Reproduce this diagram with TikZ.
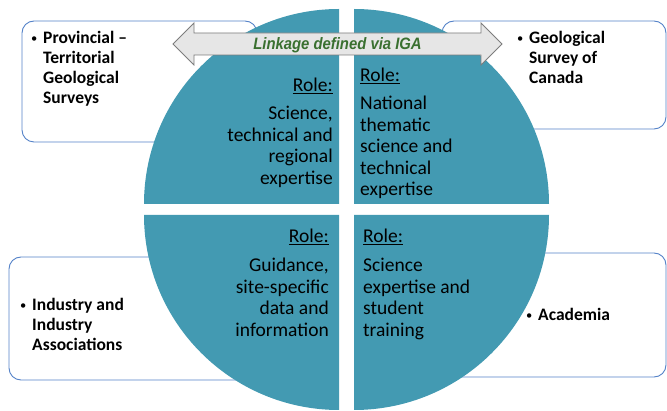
\documentclass[tikz,border=0pt]{standalone}
\usepackage{fontspec}
\setmainfont{Carlito}
\newfontfamily\arialfont{Liberation Sans}
\definecolor{quad}{RGB}{67,154,178}
\definecolor{boxline}{RGB}{84,130,200}
\definecolor{linkgreen}{RGB}{58,112,48}
\definecolor{linkfill}{RGB}{230,230,230}
\definecolor{linkline}{RGB}{125,125,125}
\tikzset{
  partner/.style={draw=boxline, line width=0.9pt, fill=white, rounded corners=12pt},
  quarter/.style={fill=quad},
  linkarrow/.style={fill=linkfill, draw=linkline, line width=0.8pt},
  partnertext/.style={anchor=base west, inner sep=0pt, font=\fontsize{17.5}{20}\selectfont\bfseries},
  roleleft/.style={anchor=base east, inner sep=0pt, font=\fontsize{19.5}{21.5}\selectfont},
  roleright/.style={anchor=base west, inner sep=0pt, font=\fontsize{19.5}{21.5}\selectfont},
}
\newcommand{\bul}{\makebox[12pt][l]{\raisebox{1.2pt}{\fontsize{12.5}{12.5}\selectfont\mdseries\textbullet}}}
\begin{document}
\begin{tikzpicture}[x=1pt,y=-1pt]
    \useasboundingbox (0,0) rectangle (667,411);
    % partner boxes
    \draw[partner] (22,21) rectangle (257,142);
    \draw[partner] (442,21) rectangle (666,129);
    \draw[partner] (9,257) rectangle (300,380);
    \draw[partner] (400,253) rectangle (666,377);
    % four quarters
    \fill[quarter] (339,204) -- (144,204) arc[start angle=180, end angle=270, radius=195] -- cycle;
    \fill[quarter] (354,204) -- (354,9) arc[start angle=270, end angle=360, radius=195] -- cycle;
    \fill[quarter] (339,215) -- (339,410) arc[start angle=90, end angle=180, radius=195] -- cycle;
    \fill[quarter] (354,215) -- (549,215) arc[start angle=0, end angle=90, radius=195] -- cycle;
    % linkage arrow
    \draw[linkarrow] (173,44) -- (194,23) -- (194,33) -- (481,33) -- (481,23) -- (502,44)
        -- (481,65) -- (481,55) -- (194,55) -- (194,65) -- cycle;
    \node (link) at (337.5,49.5) [anchor=base, inner sep=0pt, xscale=0.9,
        font=\arialfont\fontsize{16.5}{18}\selectfont\bfseries\itshape, text=linkgreen]
        {Linkage defined via IGA};
    % partners
    \node (ptgs) at (31,44) [partnertext]
        {\begin{tabular}[t]{@{}l@{}l@{}}\bul & Provincial --\\ & Territorial\\ & Geological\\ & Surveys\end{tabular}};
    \node (gsc) at (517,44) [partnertext]
        {\begin{tabular}[t]{@{}l@{}l@{}}\bul & Geological\\ & Survey of\\ & Canada\end{tabular}};
    \node (industry) at (20,311) [partnertext]
        {\begin{tabular}[t]{@{}l@{}l@{}}\bul & Industry and\\ & Industry\\ & Associations\end{tabular}};
    \node (academia) at (526,321) [partnertext]
        {\begin{tabular}[t]{@{}l@{}l@{}}\bul & Academia\end{tabular}};
    % roles
    \node (roleptgs) at (333,92) [roleleft]
        {\begin{tabular}[t]{@{}r@{}}\underline{Role:}\\[6.5pt] Science,\\ technical and\\ regional\\ expertise\end{tabular}};
    \node (rolegsc) at (360,82) [roleright]
        {\begin{tabular}[t]{@{}l@{}}\underline{Role:}\\[6.5pt] National\\ thematic\\ science and\\ technical\\ expertise\end{tabular}};
    \node (roleindustry) at (329,243) [roleleft]
        {\begin{tabular}[t]{@{}r@{}}\underline{Role:}\\[7.5pt] Guidance,\\ site-specific\\ data and\\ information\end{tabular}};
    \node (roleacademia) at (363,243) [roleright]
        {\begin{tabular}[t]{@{}l@{}}\underline{Role:}\\[7.5pt] Science\\ expertise and\\ student\\ training\end{tabular}};
\end{tikzpicture}
\end{document}
